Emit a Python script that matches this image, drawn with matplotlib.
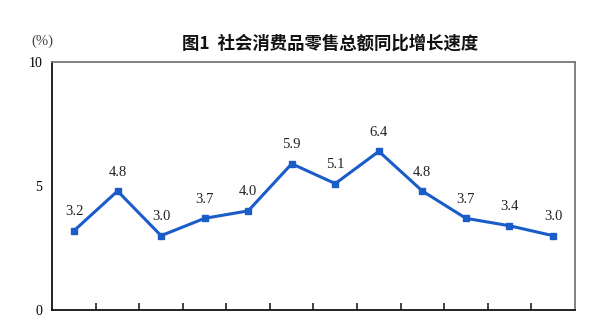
import matplotlib.pyplot as plt
import numpy as np

plt.rcParams['font.family'] = ['Liberation Serif', 'Noto Sans CJK SC']

# monthly growth rates (%), labels fall below the cropped area
months = ['1', '2', '3', '4', '5', '6', '7', '8', '9', '10', '11', '12']
growth = [3.2, 4.8, 3.0, 3.7, 4.0, 5.9, 5.1, 6.4, 4.8, 3.7, 3.4, 3.0]
yticks = [0, 5, 10]

fig = plt.figure(figsize=(6, 3.2), dpi=100)
ax = fig.add_axes([0.087, 0.031, 0.871, 0.775])

x = np.arange(len(months))
ax.plot(x, growth, color='#1a5cc8', lw=2.2, marker='s', ms=5, mfc='#1a5cc8', mec='#1a5cc8')
for xi, v in zip(x, growth):
    ax.annotate(f'{v:.1f}', (xi, v), xytext=(0, 9), textcoords='offset points',
                ha='center', va='bottom', fontsize=10.5, color='#222222')

ax.set_xlim(-0.5, len(months) - 0.5)
ax.set_ylim(0, 10)
ax.set_yticks(yticks)
ax.set_yticklabels([str(t) for t in yticks], fontsize=10)
ax.tick_params(axis='y', length=0, pad=7)
ax.set_xticks(x)
ax.set_xticklabels([])
ax.tick_params(axis='x', which='major', length=0)
ax.set_xticks(np.arange(0.5, len(months) - 0.5, 1), minor=True)
ax.tick_params(axis='x', which='minor', direction='in', length=5, width=1.2, color='#222222')

for s in ['left', 'bottom']:
    ax.spines[s].set_color('#111111')
    ax.spines[s].set_linewidth(1.3)
for s in ['top', 'right']:
    ax.spines[s].set_color('#777777')
    ax.spines[s].set_linewidth(1.3)

fig.text(0.55, 0.865, '图1  社会消费品零售总额同比增长速度', ha='center', va='center',
         fontsize=12.5, fontweight='bold', family='Noto Sans CJK SC', color='#111111')
fig.text(0.07, 0.87, '(%)', ha='center', va='center', fontsize=10.5, color='#444444')

fig.savefig('out.png', dpi=100, facecolor='white')
